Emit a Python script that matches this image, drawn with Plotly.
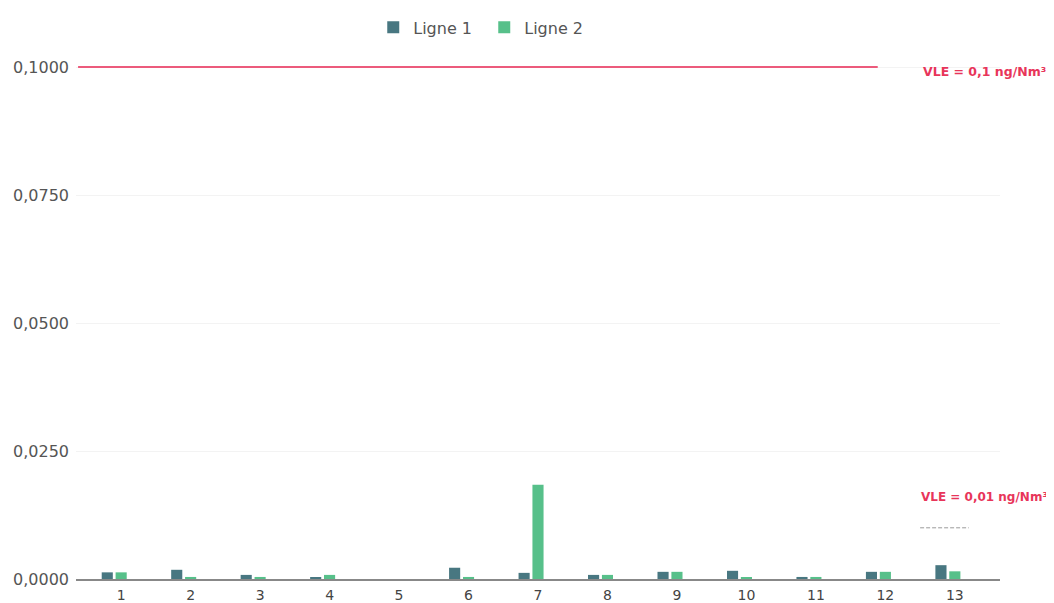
import plotly.graph_objects as go

categories = list(range(1, 14))
tick_labels = [str(c) for c in categories]
ligne1 = [0.0013, 0.0018, 0.0008, 0.0002, 0.0, 0.0022, 0.0012, 0.0008, 0.0014, 0.0016, 0.0004, 0.0014, 0.0027]
ligne2 = [0.0013, 0.0004, 0.0004, 0.0008, 0.0, 0.0004, 0.0184, 0.0008, 0.0014, 0.0002, 0.0004, 0.0014, 0.0015]
y_ticks = [0.0, 0.025, 0.05, 0.075, 0.1]

vle_high = 0.1
vle_high_x = [0.38, 11.89]
vle_high_label = "VLE = 0,1 ng/Nm³"
vle_low = 0.01
vle_low_x = [12.5, 13.2]
vle_low_label = "VLE = 0,01 ng/Nm³"

FONT = "DejaVu Sans"
C1 = "#487781"
C2 = "#57c08a"
RED = "#e8355a"

fig = go.Figure()
fig.add_trace(go.Bar(x=categories, y=ligne1, name="Ligne 1", marker_color=C1,
                     width=0.16, offset=-0.28, marker_line_width=0))
fig.add_trace(go.Bar(x=categories, y=ligne2, name="Ligne 2", marker_color=C2,
                     width=0.16, offset=-0.08, marker_line_width=0))

# VLE threshold lines
fig.add_trace(go.Scatter(x=vle_high_x, y=[vle_high, vle_high], mode="lines",
                         line=dict(color="#ec5b7c", width=2), showlegend=False,
                         hoverinfo="skip", cliponaxis=False))
fig.add_trace(go.Scatter(x=vle_low_x, y=[vle_low, vle_low], mode="lines",
                         line=dict(color="#9a9a9a", width=1, dash="4px,2px"), showlegend=False,
                         hoverinfo="skip", cliponaxis=False))

fig.add_annotation(x=13.43, y=vle_high, xref="x", yref="y", text="<b>" + vle_high_label + "</b>",
                   showarrow=False, font=dict(family=FONT, size=12.5, color=RED), yshift=-4)
fig.add_annotation(x=13.43, y=0.016, xref="x", yref="y", text="<b>" + vle_low_label + "</b>",
                   showarrow=False, font=dict(family=FONT, size=12, color=RED))

# page body has an 8px default margin -> figure is drawn 1046x595 at offset (8, 8)
fig.update_layout(
    width=1046, height=595,
    margin=dict(l=68, r=54, t=55, b=24, autoexpand=False),
    plot_bgcolor="white", paper_bgcolor="white",
    barmode="overlay",
    separators=", ",
    font=dict(family=FONT, color="#555555"),
    legend=dict(orientation="h", x=0.3217, xanchor="left", y=1.102, yanchor="top",
                font=dict(family=FONT, size=16, color="#555555"), itemwidth=30,
                entrywidth=66, entrywidthmode="pixels"),
    xaxis=dict(range=[0.35, 13.65], tickmode="array", tickvals=categories, ticktext=tick_labels,
               showline=True, linecolor="#888888", linewidth=1.5, showgrid=False,
               ticks="", tickfont=dict(family=FONT, size=14, color="#444444"), zeroline=False,
               ticklabelstandoff=2),
    yaxis=dict(range=[0, 0.1008], tickmode="array", tickvals=y_ticks, tickformat=".4f",
               showgrid=True, gridcolor="#f3f3f3", zeroline=False, showline=False,
               ticks="", tickfont=dict(family=FONT, size=16, color="#555555"),
               ticklabelstandoff=6),
    showlegend=True,
)

fig.write_html("out.html")
